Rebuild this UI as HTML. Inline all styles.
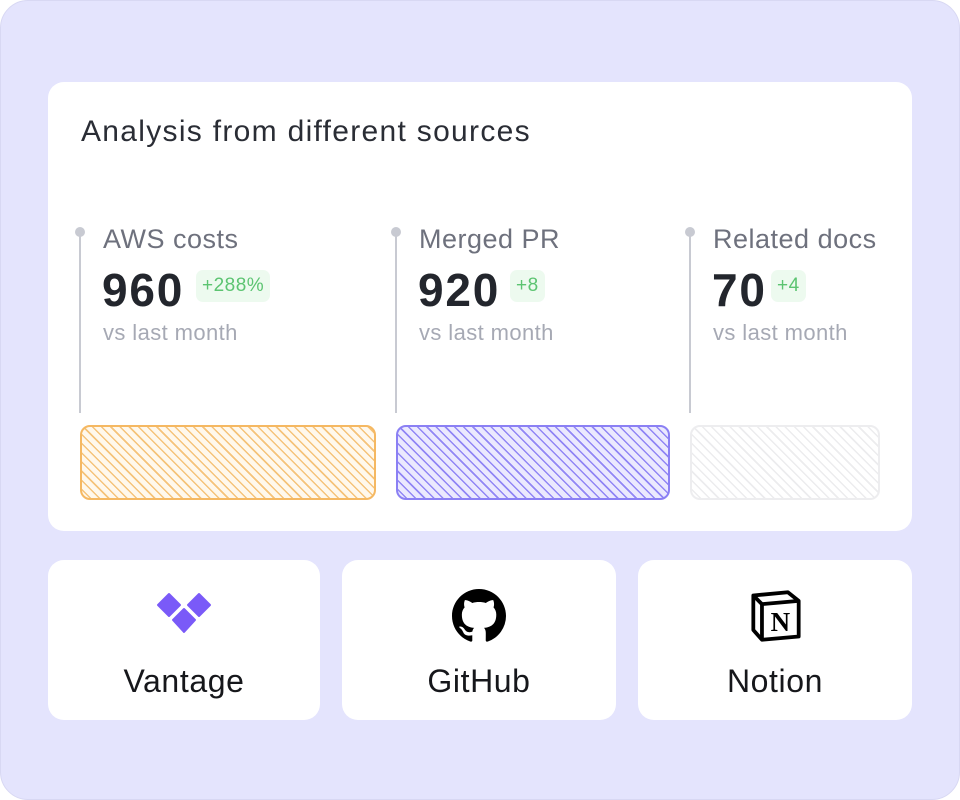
<!DOCTYPE html>
<html><head><meta charset="utf-8"><style>
*{margin:0;padding:0;box-sizing:border-box}
body{width:960px;height:800px;background:#fff;font-family:"Liberation Sans",sans-serif;position:relative;overflow:hidden}
.outer{position:absolute;left:0;top:0;width:960px;height:800px;background:#e4e4fd;border-radius:28px;border:1px solid #d8d8f3}
.card{position:absolute;background:#fff;border-radius:16px}
.title{position:absolute;left:81px;top:115px;font-size:30px;letter-spacing:1.3px;color:#2a2d35}
.vline{position:absolute;width:2px;background:#c8cad2;top:232px;height:181px}
.dot{position:absolute;width:10px;height:10px;border-radius:50%;background:#c8cad2;top:227px}
.lbl{position:absolute;top:224px;font-size:27px;letter-spacing:0.5px;color:#6e717d}
.num{position:absolute;top:263px;font-size:46px;letter-spacing:1.8px;font-weight:bold;color:#23262d}
.badge{position:absolute;top:270px;height:32px;border-radius:7px;background:#edfaef;color:#5cc471;font-size:19px;letter-spacing:0.5px;line-height:32px;padding:0 6px}
.vs{position:absolute;top:320px;font-size:22px;letter-spacing:0.4px;color:#a6a9b4}
.bar{position:absolute;top:425px;height:75px;border-radius:10px}
.name{position:absolute;top:663px;font-size:32px;letter-spacing:0.6px;color:#16171b;text-align:center}
</style></head><body>
<div class="outer"></div>
<div class="card" style="left:48px;top:82px;width:864px;height:449px"></div>
<div class="title">Analysis from different sources</div>

<div class="vline" style="left:79px"></div><div class="dot" style="left:75px"></div>
<div class="lbl" style="left:103px">AWS costs</div>
<div class="num" style="left:102px">960</div>
<div class="badge" style="left:196px">+288%</div>
<div class="vs" style="left:103px">vs last month</div>

<div class="vline" style="left:395px"></div><div class="dot" style="left:391px"></div>
<div class="lbl" style="left:419px">Merged PR</div>
<div class="num" style="left:418px">920</div>
<div class="badge" style="left:510px">+8</div>
<div class="vs" style="left:419px">vs last month</div>

<div class="vline" style="left:689px"></div><div class="dot" style="left:685px"></div>
<div class="lbl" style="left:713px">Related docs</div>
<div class="num" style="left:712px">70</div>
<div class="badge" style="left:771px">+4</div>
<div class="vs" style="left:713px">vs last month</div>

<div class="bar" style="left:80px;width:296px;border:2px solid #f5b862;background:repeating-linear-gradient(45deg,#fff8ec 0 5px,#f5c37a 5px 6.5px)"></div>
<div class="bar" style="left:396px;width:274px;border:2px solid #8b80f4;background:repeating-linear-gradient(45deg,#ebe9fe 0 5px,#9186f5 5px 6.5px)"></div>
<div class="bar" style="left:690px;width:190px;border:2px solid #ededef;background:repeating-linear-gradient(45deg,#fff 0 5px,#ececee 5px 6.5px)"></div>

<div class="card" style="left:48px;top:560px;width:272px;height:160px"></div>
<div class="card" style="left:342px;top:560px;width:274px;height:160px"></div>
<div class="card" style="left:638px;top:560px;width:274px;height:160px"></div>

<svg style="position:absolute;left:150px;top:590px" width="70" height="50" viewBox="0 0 70 50">
<polygon points="19,4 30,15 19,26 8,15" fill="#7a5af8" stroke="#7a5af8" stroke-width="2" stroke-linejoin="round"/>
<polygon points="49,4 60,15 49,26 38,15" fill="#7a5af8" stroke="#7a5af8" stroke-width="2" stroke-linejoin="round"/>
<polygon points="34,19 45,30 34,42 23,30" fill="#7a5af8" stroke="#7a5af8" stroke-width="2" stroke-linejoin="round"/>
</svg>
<div class="name" style="left:48px;width:272px">Vantage</div>

<svg style="position:absolute;left:452px;top:589px" width="54" height="54" viewBox="0 0 16 16">
<path fill="#000" d="M8 0C3.580 0 0 3.580 0 8c0 3.540 2.290 6.530 5.470 7.590.4.07.55-.17.55-.38 0-.19-.01-.82-.01-1.490-2.010.37-2.530-.49-2.690-.94-.09-.23-.48-.94-.82-1.130-.28-.15-.68-.52-.01-.53.63-.01 1.080.58 1.230.82.72 1.210 1.870.87 2.330.66.07-.52.28-.87.51-1.070-1.780-.2-3.640-.89-3.640-3.950 0-.87.31-1.590.82-2.150-.08-.2-.36-1.020.08-2.120 0 0 .67-.21 2.200.82.64-.18 1.320-.27 2-.27.68 0 1.360.09 2 .27 1.530-1.040 2.200-.82 2.200-.82.44 1.100.16 1.920.08 2.120.51.56.82 1.270.82 2.150 0 3.070-1.870 3.750-3.650 3.950.29.25.54.73.54 1.480 0 1.070-.01 1.930-.01 2.200 0 .21.15.46.55.38A8.013 8.013 0 0016 8c0-4.420-3.580-8-8-8z"/>
</svg>
<div class="name" style="left:342px;width:274px">GitHub</div>

<svg style="position:absolute;left:749px;top:589px" width="54" height="54" viewBox="0 0 50 50">
<path d="M4 6 L36 3 L46 11 L46 44 L12 47 L4 38 Z" fill="#fff" stroke="#000" stroke-width="3.5" stroke-linejoin="round"/>
<path d="M4 6 L12 14 L46 11" fill="none" stroke="#000" stroke-width="3.5"/>
<path d="M12 14 L12 47" stroke="#000" stroke-width="3.5"/>
<text x="29" y="39" font-family="Liberation Serif,serif" font-weight="bold" font-size="25" text-anchor="middle">N</text>
</svg>
<div class="name" style="left:638px;width:274px">Notion</div>
</body></html>
